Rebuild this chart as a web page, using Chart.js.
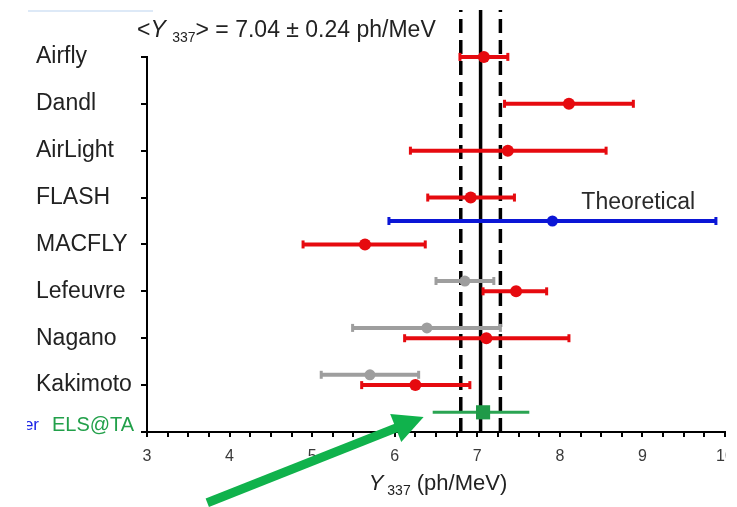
<!DOCTYPE html>
<html><head><meta charset="utf-8">
<script src="https://cdn.jsdelivr.net/npm/chart.js@4/dist/chart.umd.min.js"></script>
<style>
html,body{margin:0;padding:0;background:#fff;}
#wrap{width:726px;height:507px;overflow:hidden;background:#fff;}
canvas{display:block;}
</style></head><body>
<div id="wrap"><canvas id="c" width="737" height="507"></canvas></div>
<script>
// ---- data ----
const categories = ['Airfly','Dandl','AirLight','FLASH','MACFLY','Lefeuvre','Nagano','Kakimoto','ELS@TA'];
const xTickLabels = [3,4,5,6,7,8,9,10];

const redNames  = ['Airfly','Dandl','AirLight','FLASH','MACFLY','Lefeuvre','Nagano','Kakimoto'];
const redValues = [7.08, 8.11, 7.37, 6.92, 5.64, 7.47, 7.11, 6.25];
const redLow    = [6.79, 7.33, 6.19, 6.40, 4.89, 7.07, 6.12, 5.60];
const redHigh   = [7.37, 8.89, 8.56, 7.45, 6.37, 7.84, 8.11, 6.91];

const grayNames  = ['Lefeuvre','Nagano','Kakimoto'];
const grayValues = [6.85, 6.39, 5.70];
const grayLow    = [6.50, 5.49, 5.11];
const grayHigh   = [7.20, 7.28, 6.29];
const grayRowShift = 0.22;

const theoValue = [7.91];
const theoLow   = [5.93];
const theoHigh  = [9.89];
const theoRow   = [4.5];

const elsValue = [7.07];
const elsLow   = [6.46];
const elsHigh  = [7.63];
const elsRow   = [0.42];

const meanValue = 7.04;
const meanError = 0.24;

// ---- helpers ----
const FAM = '"Liberation Sans", Arial, sans-serif';
const RED = '#e60a0f', GRAY = '#9e9e9e', BLUE = '#0b16d6', GREEN = '#1f9a48', GREEN_BAR = '#2aa452', ARROW = '#10b24c';
const rowOf = n => categories.length - 1 - categories.indexOf(n);

function errBar(lo, hi, y, color, width, capR) {
  return {
    data: [{x: lo, y: y}, {x: hi, y: y}],
    showLine: true, borderColor: color, borderWidth: width,
    pointStyle: 'line', pointRotation: 90, pointRadius: capR, pointHoverRadius: capR,
    pointBorderColor: color, pointBackgroundColor: color, pointBorderWidth: 3,
    order: 2
  };
}
function dots(xs, ys, color, r, style) {
  return {
    data: xs.map((v, i) => ({x: v, y: ys[i]})),
    pointStyle: style || 'circle', pointRadius: r, pointHoverRadius: r,
    backgroundColor: color, borderColor: color, borderWidth: 0, order: 1
  };
}
function vline(x, dash) {
  return {
    data: [{x: x, y: 0}, {x: x, y: 9}], showLine: true,
    borderColor: '#000', borderWidth: 3.5, borderDash: dash, pointRadius: 0, pointHoverRadius: 0,
    order: 5
  };
}

const datasets = [];
datasets.push(vline(meanValue, []));
datasets.push(vline(meanValue - meanError, [14, 7]));
datasets.push(vline(meanValue + meanError, [14, 7]));
redNames.forEach((n, i) => datasets.push(errBar(redLow[i], redHigh[i], rowOf(n), RED, 4, 4)));
grayNames.forEach((n, i) => datasets.push(errBar(grayLow[i], grayHigh[i], rowOf(n) + grayRowShift, GRAY, 4, 4)));
theoValue.forEach((v, i) => datasets.push(errBar(theoLow[i], theoHigh[i], theoRow[i], BLUE, 4, 4)));
elsValue.forEach((v, i) => datasets.push(errBar(elsLow[i], elsHigh[i], elsRow[i], GREEN_BAR, 3, 0)));
datasets.push(dots(redValues, redNames.map(rowOf), RED, 6));
datasets.push(dots(grayValues, grayNames.map(n => rowOf(n) + grayRowShift), GRAY, 5.5));
datasets.push(dots(theoValue, theoRow, BLUE, 5.5));
datasets.push(dots(elsValue, elsRow, GREEN, 10, 'rect'));

function richText(ctx, x, y, parts, align) {
  let total = 0;
  parts.forEach(p => { ctx.font = p.font; total += ctx.measureText(p.t).width; });
  let cx = align === 'center' ? x - total / 2 : x;
  ctx.textAlign = 'left'; ctx.textBaseline = 'alphabetic';
  parts.forEach(p => {
    ctx.font = p.font; ctx.fillStyle = p.color || '#222';
    ctx.fillText(p.t, cx, y + (p.dy || 0));
    cx += ctx.measureText(p.t).width;
  });
}

const decor = {
  id: 'decor',
  afterDraw(chart) {
    const ctx = chart.ctx, xs = chart.scales.x, ys = chart.scales.y, ca = chart.chartArea;
    ctx.save();
    // y axis line (only spans the categories)
    ctx.strokeStyle = '#000'; ctx.lineWidth = 2;
    ctx.beginPath();
    const ax = Math.round(xs.getPixelForValue(3));
    ctx.moveTo(ax, ys.getPixelForValue(8) - 1);
    ctx.lineTo(ax, ys.getPixelForValue(0) + 1);
    ctx.stroke();

    // light blue line top-left
    ctx.strokeStyle = '#dde9f7'; ctx.lineWidth = 2;
    ctx.beginPath(); ctx.moveTo(28, 11); ctx.lineTo(153, 11); ctx.stroke();

    // title
    richText(ctx, ca.left - 10, 37, [
      {t: '<', font: '23px ' + FAM},
      {t: 'Y', font: 'italic 23px ' + FAM},
      {t: ' ', font: '23px ' + FAM},
      {t: '337', font: '14px ' + FAM, dy: 5},
      {t: '> = ' + meanValue.toFixed(2) + ' \u00b1 ' + meanError.toFixed(2) + ' ph/MeV', font: '23px ' + FAM}
    ]);

    // x axis title
    richText(ctx, (ca.left + ca.right) / 2 + 2, 490, [
      {t: 'Y', font: 'italic 22px ' + FAM, color: '#222'},
      {t: ' ', font: '14px ' + FAM},
      {t: '337', font: '14px ' + FAM, dy: 5, color: '#222'},
      {t: ' (ph/MeV)', font: '22px ' + FAM, color: '#222'}
    ], 'center');

    // Theoretical label
    ctx.font = '23px ' + FAM; ctx.fillStyle = '#2a2a2a';
    ctx.textAlign = 'left'; ctx.textBaseline = 'middle';
    ctx.fillText('Theoretical', xs.getPixelForValue(8.26), ys.getPixelForValue(4.9));

    // ELS@TA label
    const yEls = ys.getPixelForValue(0) - 7;
    ctx.font = '20px ' + FAM; ctx.fillStyle = '#22a04a';
    ctx.fillText(categories[categories.length - 1], 52, yEls);

    // clipped blue fragment
    ctx.save();
    ctx.beginPath(); ctx.rect(27, yEls - 15, 20, 30); ctx.clip();
    ctx.font = '17px ' + FAM; ctx.fillStyle = '#1a24e6'; ctx.textAlign = 'right';
    ctx.fillText('ter', 39, yEls);
    ctx.restore();

    // green arrow
    const t0 = {x: xs.getPixelForValue(3.73), y: ys.getPixelForValue(-1.51)};
    const t1 = {x: xs.getPixelForValue(6.35), y: ys.getPixelForValue(0.32)};
    const dx = t1.x - t0.x, dy = t1.y - t0.y, L = Math.hypot(dx, dy);
    const ux = dx / L, uy = dy / L, px = -uy, py = ux;
    const hl = 30, hw = 15;
    ctx.strokeStyle = ARROW; ctx.fillStyle = ARROW; ctx.lineWidth = 9; ctx.lineCap = 'butt';
    ctx.beginPath(); ctx.moveTo(t0.x, t0.y); ctx.lineTo(t1.x - ux * (hl - 4), t1.y - uy * (hl - 4)); ctx.stroke();
    ctx.beginPath();
    ctx.moveTo(t1.x, t1.y);
    ctx.lineTo(t1.x - ux * hl + px * hw, t1.y - uy * hl + py * hw);
    ctx.lineTo(t1.x - ux * hl - px * hw, t1.y - uy * hl - py * hw);
    ctx.closePath(); ctx.fill();
    ctx.restore();
  }
};

new Chart(document.getElementById('c'), {
  type: 'scatter',
  data: {datasets: datasets},
  options: {
    responsive: false, animation: false,
    layout: {padding: {left: 36, right: 12, top: 10, bottom: 0}},
    plugins: {legend: {display: false}, tooltip: {enabled: false}},
    scales: {
      x: {
        type: 'linear', min: 3, max: 10,
        afterFit: s => { s.height = 75; s.paddingLeft = 0; s.paddingRight = 0; },
        ticks: {
          stepSize: 0.25, autoSkip: false, maxRotation: 0, padding: 10,
          color: '#3a3a3a', font: {size: 16, family: FAM},
          callback: v => xTickLabels.includes(v) ? String(v) : ''
        },
        grid: {drawOnChartArea: false, drawTicks: true, tickLength: 5, color: '#000', lineWidth: 2},
        border: {display: true, color: '#000', width: 2}
      },
      y: {
        type: 'linear', min: 0, max: 9,
        afterFit: s => { s.width = 111; s.paddingTop = 0; s.paddingBottom = 0; },
        ticks: {
          stepSize: 1, autoSkip: false, crossAlign: 'far',
          color: '#222', font: {size: 23, family: FAM},
          callback: v => (v >= 1 && v <= 8) ? categories[categories.length - 1 - v] : (v === 0 ? '' : null)
        },
        grid: {drawOnChartArea: false, drawTicks: true, tickLength: 6, color: '#000', lineWidth: 2},
        border: {display: false}
      }
    }
  },
  plugins: [decor]
});
</script>
</body></html>
